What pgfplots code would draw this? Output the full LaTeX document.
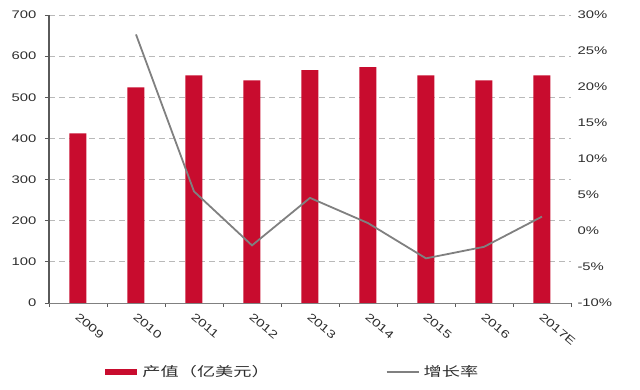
\documentclass[border=0pt]{standalone}
\usepackage{fontspec}
\setmainfont{Liberation Sans}[FakeStretch=1.35]
\newfontfamily\cjk{Noto Sans CJK SC}[FakeStretch=1.4]
\usepackage{pgfplots}
\pgfplotsset{compat=1.18}
\definecolor{barred}{RGB}{200,12,46}
\definecolor{linegray}{RGB}{128,128,128}
\definecolor{gridgray}{RGB}{185,185,185}
\definecolor{axisgray}{RGB}{90,90,90}
\definecolor{labelgray}{RGB}{45,45,45}
\begin{document}
\begin{tikzpicture}
\useasboundingbox (-49pt,-87pt) rectangle (591pt,303pt);
% bars, left axis
\begin{axis}[
  scale only axis, width=522pt, height=288pt,
  xmin=-0.5, xmax=8.5, ymin=0, ymax=700,
  axis x line*=bottom, axis y line*=left,
  x axis line style={draw=linegray, line width=0.9pt, -},
  y axis line style={draw=axisgray, line width=1.1pt, -},
  xtick={-0.5,0.5,1.5,2.5,3.5,4.5,5.5,6.5,7.5,8.5},
  xticklabels={},
  ytick={0,100,...,700},
  tick align=outside, major tick length=4pt,
  tick style={draw=axisgray, line width=0.8pt},
  ymajorgrids,
  grid style={draw=gridgray, line width=0.9pt, dash pattern=on 5.5pt off 4.5pt},
  /pgf/number format/assume math mode=true,
  yticklabel style={font=\fontsize{11}{13}\selectfont, text=labelgray, xshift=-5pt},
]
\addplot[ybar, fill=barred, draw=none, bar width=17pt] coordinates {
  (0,412) (1,524) (2,553) (3,541) (4,566) (5,573) (6,553) (7,541) (8,553)
};
\end{axis}
% growth line, right axis
\begin{axis}[
  scale only axis, width=522pt, height=288pt,
  xmin=-0.5, xmax=8.5, ymin=-10, ymax=30,
  axis x line*=bottom, axis y line*=right,
  axis line style={draw=none},
  major tick length=0pt,
  xtick={0,...,8},
  xticklabels={2009,2010,2011,2012,2013,2014,2015,2016,2017E},
  ytick={-10,-5,...,30},
  yticklabel={\pgfmathprintnumber{\tick}\%},
  /pgf/number format/assume math mode=true,
  xticklabel style={font=\fontsize{11}{13}\selectfont, text=labelgray, rotate=-40, anchor=north west, inner sep=0pt, xshift=7pt, yshift=-6pt},
  yticklabel style={font=\fontsize{11}{13}\selectfont, text=labelgray, xshift=3pt},
  legend columns=2,
  legend style={at={(0.467,-0.24)}, anchor=center, draw=none, fill=none,
    font=\cjk\fontsize{13}{15}\selectfont, text=labelgray,
    /tikz/every even column/.append style={column sep=114pt}},
]
\addlegendimage{legend image code/.code={\fill[barred] (0pt,-2.5pt) rectangle (31pt,2.5pt); \path[draw=none,fill=none] (0pt,0pt) -- (35pt,0pt);}}
\addlegendimage{legend image code/.code={\draw[linegray, line width=1.8pt] (0pt,0pt) -- (32pt,0pt); \path[draw=none,fill=none] (0pt,0pt) -- (35pt,0pt);}}
\addplot[linegray, line width=1.8pt, mark=none] coordinates {
  (1,27.3) (2,5.5) (3,-2.0) (4,4.6) (5,1.1) (6,-3.8) (7,-2.2) (8,2.0)
};
\legend{产值（亿美元）,增长率}
\end{axis}
\end{tikzpicture}
\end{document}
